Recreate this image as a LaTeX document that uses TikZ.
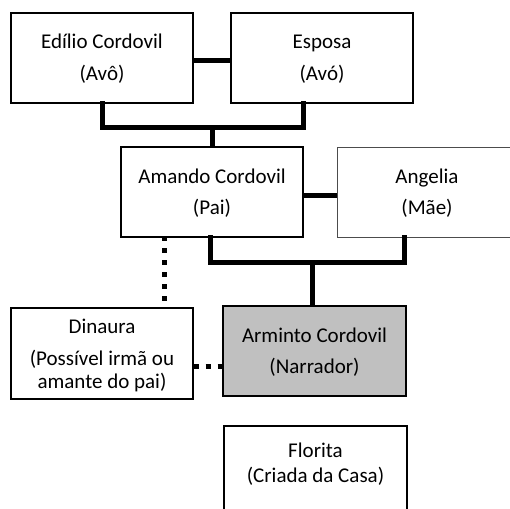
\documentclass[tikz,border=0pt]{standalone}
\usepackage{fontspec}
\setmainfont{Carlito}
\begin{document}
\begin{tikzpicture}[x=1pt,y=-1pt,
  box/.style={draw=black,line width=1.3pt,rectangle,inner sep=0pt,fill=white},
  lbl/.style={anchor=base,inner sep=0pt,font=\fontsize{21}{25}\selectfont},
  thickline/.style={line width=5pt,line cap=rect},
  dotline/.style={line width=5pt,dash pattern=on 5pt off 7pt}]
\clip (0,0) rectangle (510,508);
\fill[white] (0,0) rectangle (510,508);
% boxes
\node[box,minimum width=182pt,minimum height=90pt] (edilio) at (102,58) {};
\node[box,minimum width=182pt,minimum height=90pt] (esposa) at (322,58) {};
\node[box,minimum width=182pt,minimum height=90pt] (amando) at (212,192) {};
\node[box,draw=gray!60!black,line width=0.9pt,minimum width=180pt,minimum height=90pt] (angelia) at (427,192) {};
\node[box,minimum width=182pt,minimum height=91pt] (dinaura) at (102,353.5) {};
\node[box,fill={rgb,255:red,192;green,192;blue,192},minimum width=183pt,minimum height=90pt] (arminto) at (314.5,351) {};
\node[box,minimum width=183pt,minimum height=110pt] (florita) at (315.5,481) {};
% texts
\node[lbl] (t1a) at (102,49) {Edílio Cordovil};
\node[lbl] (t1b) at (102,81) {(Avô)};
\node[lbl] (t2a) at (322,49) {Esposa};
\node[lbl] (t2b) at (322,81) {(Avó)};
\node[lbl] (t3a) at (212,183) {Amando Cordovil};
\node[lbl] (t3b) at (212,214) {(Pai)};
\node[lbl] (t4a) at (427,183) {Angelia};
\node[lbl] (t4b) at (427,214) {(Mãe)};
\node[lbl] (t5a) at (102,333) {Dinaura};
\node[lbl] (t5b) at (102,365) {(Possível irmã ou};
\node[lbl] (t5c) at (102,388) {amante do pai)};
\node[lbl] (t6a) at (314.5,342) {Arminto Cordovil};
\node[lbl] (t6b) at (314.5,373) {(Narrador)};
\node[lbl] (t7a) at (315.5,457) {Florita};
\node[lbl] (t7b) at (315.5,482) {(Criada da Casa)};
% coordinates for connectors
\coordinate (gpL) at (102,127);
\coordinate (gpR) at (303,127);
\coordinate (gpM) at (212,127);
\coordinate (pL) at (210,262);
\coordinate (pR) at (404,262);
\coordinate (pM) at (312,262);
\coordinate (dv) at (164,237);
\coordinate (h1) at (0,61);
\coordinate (h2) at (0,195);
\coordinate (h3) at (0,366);
% connectors
\draw[line width=5pt] (edilio.east |- h1) -- (esposa.west |- h1);
\draw[thickline] (edilio.south) -- (gpL) -- (gpR) -- (gpR |- esposa.south);
\draw[line width=5pt] (gpM) -- (amando.north);
\draw[line width=5pt] (amando.east |- h2) -- (angelia.west |- h2);
\draw[thickline] (pL |- amando.south) -- (pL) -- (pR) -- (pR |- angelia.south);
\draw[line width=5pt] (pM) -- (pM |- arminto.north);
\draw[dotline,dash phase=1pt] (dv) -- (dv |- dinaura.north);
\draw[dotline] (dinaura.east |- h3) -- (arminto.west |- h3);
\end{tikzpicture}
\end{document}
